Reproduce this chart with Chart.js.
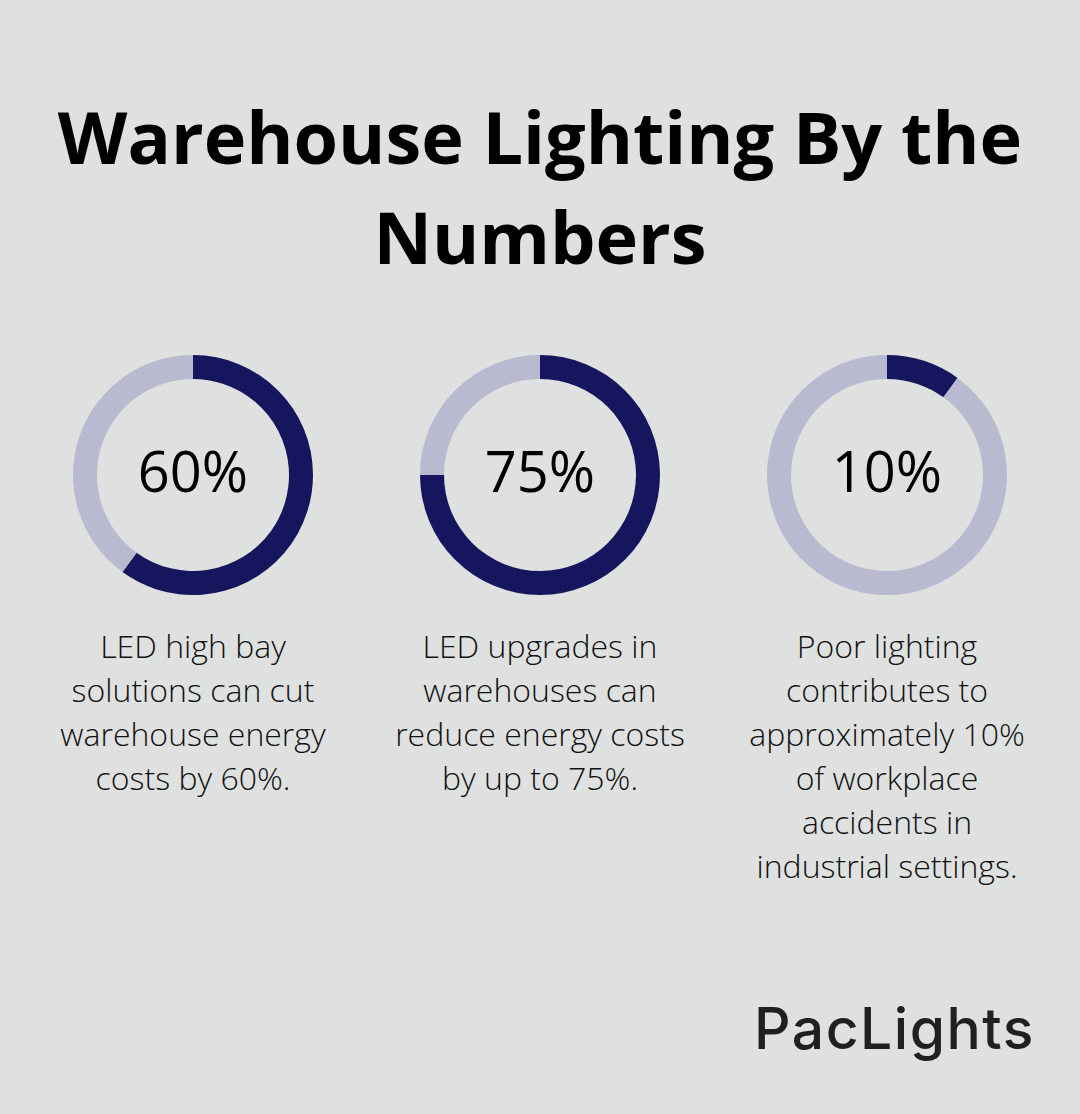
<!DOCTYPE html>
<html>
<head>
<meta charset="utf-8">
<script src="https://cdn.jsdelivr.net/npm/chart.js@4.4.1/dist/chart.umd.min.js"></script>
<style>
  html, body { margin: 0; padding: 0; }
  body { width: 1080px; height: 1114px; background: #dfe1e0; position: relative; overflow: hidden; font-family: "Open Sans", sans-serif; }
  .title { position: absolute; left: 0; width: 1080px; top: 86px; text-align: center; font-weight: 700; font-size: 72px; line-height: 100px; color: #000; }
  .ring { position: absolute; width: 240px; height: 240px; }
  .center { position: absolute; width: 240px; text-align: center; font-size: 56px; line-height: 76px; color: #000; font-weight: 500; }
  .desc { position: absolute; width: 360px; text-align: center; font-size: 32px; line-height: 44px; font-weight: 300; color: #111; }
  .logo { position: absolute; left: 754px; top: 994px; font-family: "Inter", sans-serif; font-weight: 500; font-size: 57px; line-height: 70px; color: #231f20; letter-spacing: 1.5px; }
</style>
</head>
<body>
<div class="title">Warehouse Lighting By the<br>Numbers</div>
<div id="charts"></div>
<div class="logo">PacLights</div>
<script>
const labels = ["60%", "75%", "10%"];
const percentValues = [60, 75, 10];
const descriptions = [
  ["LED high bay", "solutions can cut", "warehouse energy", "costs by 60%."],
  ["LED upgrades in", "warehouses can", "reduce energy costs", "by up to 75%."],
  ["Poor lighting", "contributes to", "approximately 10%", "of workplace", "accidents in", "industrial settings."]
];
const centersX = [193, 540, 887];
const centerY = 475;
const darkColor = "#16165e";
const lightColor = "#b9b9cf";

const host = document.getElementById("charts");
percentValues.forEach((v, i) => {
  const wrap = document.createElement("div");
  wrap.className = "ring";
  wrap.style.left = (centersX[i] - 120) + "px";
  wrap.style.top = (centerY - 120) + "px";
  const cv = document.createElement("canvas");
  wrap.appendChild(cv);
  host.appendChild(wrap);

  new Chart(cv, {
    type: "doughnut",
    data: {
      labels: ["value", "rest"],
      datasets: [{
        data: [v, 100 - v],
        backgroundColor: [darkColor, lightColor],
        borderWidth: 0,
        hoverOffset: 0
      }]
    },
    options: {
      responsive: true,
      maintainAspectRatio: false,
      animation: false,
      cutout: "80%",
      layout: { padding: 0 },
      plugins: { legend: { display: false }, tooltip: { enabled: false } }
    }
  });

  const c = document.createElement("div");
  c.className = "center";
  c.style.left = (centersX[i] - 120) + "px";
  c.style.top = "432px";
  c.textContent = labels[i];
  host.appendChild(c);

  const d = document.createElement("div");
  d.className = "desc";
  d.style.left = (centersX[i] - 180) + "px";
  d.style.top = "624px";
  d.innerHTML = descriptions[i].join("<br>");
  host.appendChild(d);
});
</script>
</body>
</html>
